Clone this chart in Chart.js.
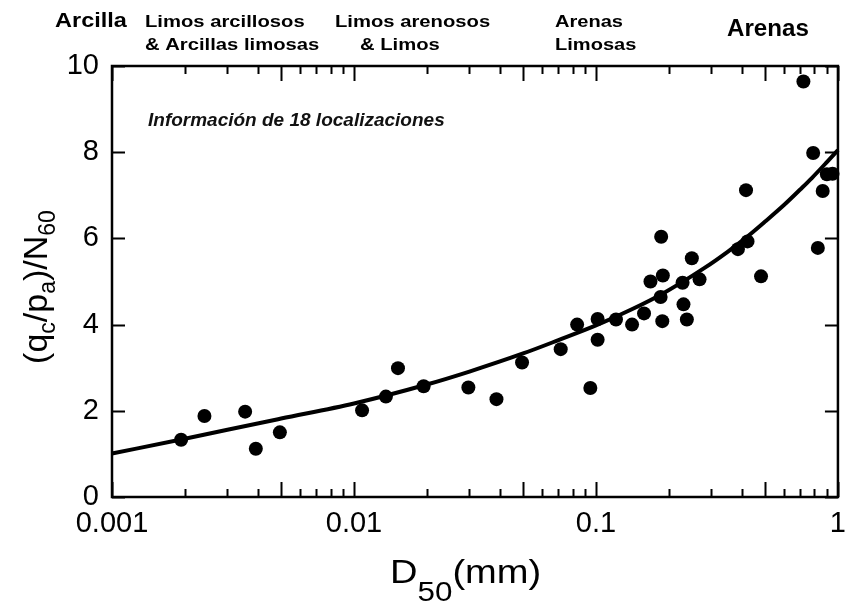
<!DOCTYPE html>
<html>
<head>
<meta charset="utf-8">
<script src="https://cdn.jsdelivr.net/npm/chart.js@4.4.1/dist/chart.umd.min.js"></script>
<style>
  html, body { margin: 0; padding: 0; background: #fff; }
</style>
</head>
<body>
<canvas id="chart" width="856" height="607"></canvas>
<script>
// Measured sites: median grain size D50 (mm) and (qc/pa)/N60
const d50 = [
  0.00193, 0.00241, 0.00355, 0.00393, 0.00494, 0.0108, 0.01355, 0.0152, 0.0194, 0.0297,
  0.0388, 0.0495, 0.0715, 0.0836, 0.0948, 0.1016, 0.1016, 0.121, 0.141, 0.158,
  0.168, 0.186, 0.189, 0.185, 0.188, 0.228, 0.23, 0.2375, 0.249, 0.268,
  0.386, 0.423, 0.417, 0.481, 0.72, 0.79, 0.826, 0.865, 0.9, 0.95
];
const ratio = [
  1.33, 1.88, 1.98, 1.12, 1.50, 2.01, 2.33, 2.99, 2.57, 2.54,
  2.27, 3.12, 3.43, 4.00, 2.53, 4.13, 3.65, 4.12, 4.00, 4.26,
  5.00, 6.04, 5.14, 4.64, 4.08, 4.97, 4.47, 4.12, 5.54, 5.05,
  5.75, 5.93, 7.12, 5.12, 9.64, 7.98, 5.78, 7.10, 7.49, 7.50
];

// Trend curve through the data
const trendD50 = [
  0.001, 0.002, 0.003, 0.005, 0.01, 0.02, 0.03, 0.05, 0.07, 0.1, 0.14,
  0.19, 0.28, 0.35, 0.42, 0.5, 0.6, 0.7, 0.78, 0.9, 1.0
];
const trendRatio = [
  1.01, 1.35, 1.56, 1.82, 2.17, 2.61, 2.91, 3.33, 3.64, 3.98, 4.35,
  4.73, 5.31, 5.69, 6.03, 6.39, 6.78, 7.14, 7.40, 7.77, 8.05
];

const xTickLabels = ['0.001', '0.01', '0.1', '1'];
const yTickLabels = ['0', '2', '4', '6', '8', '10'];

// Soil type headings above the plot, one entry per column
const soilClasses = [
  ['Arcilla'],
  ['Limos arcillosos', '& Arcillas limosas'],
  ['Limos arenosos', '& Limos'],
  ['Arenas', 'Limosas'],
  ['Arenas']
];
const noteText = 'Información de 18 localizaciones';

const FONT = '"Liberation Sans", Arial, Helvetica, sans-serif';

// where each heading line sits: [x, baseline, size, horizontal stretch]
const headingLayout = [
  [[55, 27, 21, 1.12]],
  [[145, 27, 17, 1.19], [145, 50, 17, 1.19]],
  [[335, 27, 17, 1.19], [360, 50, 17, 1.19]],
  [[555, 27, 17, 1.18], [555, 50, 17, 1.18]],
  [[727, 36, 23, 1.05]]
];

function drawText(ctx, text, x, y, font, sx) {
  ctx.save();
  ctx.font = font;
  ctx.translate(x, y);
  ctx.scale(sx, 1);
  ctx.fillText(text, 0, 0);
  const w = ctx.measureText(text).width * sx;
  ctx.restore();
  return w;
}

function mantissa(v) {
  const e = Math.floor(Math.log10(v) + 1e-9);
  return v / Math.pow(10, e);
}

const decorations = {
  id: 'decorations',
  afterDraw(chart) {
    const { ctx, chartArea: a, scales } = chart;
    const xs = scales.x, ys = scales.y;
    ctx.save();
    ctx.strokeStyle = '#000';
    ctx.fillStyle = '#000';
    ctx.lineCap = 'butt';

    // inward ticks on all four sides
    ctx.lineWidth = 2;
    ctx.beginPath();
    xs.ticks.forEach(t => {
      const m = mantissa(t.value);
      if (Math.abs(m - Math.round(m)) > 1e-6) return;
      const r = Math.round(m);
      const len = (r === 1 || r === 5 || r === 10) ? 15 : 8;
      const px = Math.round(xs.getPixelForValue(t.value)) + 0.5;
      ctx.moveTo(px, a.bottom);
      ctx.lineTo(px, a.bottom - len);
      ctx.moveTo(px, a.top);
      ctx.lineTo(px, a.top + len);
    });
    ys.ticks.forEach(t => {
      const py = Math.round(ys.getPixelForValue(t.value)) + 0.5;
      ctx.moveTo(a.left, py);
      ctx.lineTo(a.left + 13, py);
      ctx.moveTo(a.right, py);
      ctx.lineTo(a.right - 13, py);
    });
    ctx.stroke();

    // plot frame
    ctx.lineWidth = 2.5;
    ctx.strokeRect(a.left, a.top, a.right - a.left, a.bottom - a.top);

    // soil headings
    ctx.textBaseline = 'alphabetic';
    ctx.textAlign = 'left';
    soilClasses.forEach((lines, i) => {
      lines.forEach((line, j) => {
        const [x, y, size, sx] = headingLayout[i][j];
        drawText(ctx, line, x, y, 'bold ' + size + 'px ' + FONT, sx);
      });
    });

    // note inside the plot
    ctx.fillStyle = '#111';
    drawText(ctx, noteText, 148, 126, 'italic bold 19px ' + FONT, 1);
    ctx.fillStyle = '#000';

    // x axis title: D50(mm)
    let x = 390;
    x += drawText(ctx, 'D', x, 583, '34px ' + FONT, 1.12);
    x += drawText(ctx, '50', x, 601, '28px ' + FONT, 1.12);
    drawText(ctx, '(mm)', x, 583, '34px ' + FONT, 1.12);

    // y axis title: (qc/pa)/N60, rotated
    const parts = [
      ['(q', false], ['c', true], ['/p', false], ['a', true], [')/N', false], ['60', true]
    ];
    const big = '34px ' + FONT, small = '23px ' + FONT;
    let total = 0;
    parts.forEach(([t, sub]) => { ctx.font = sub ? small : big; total += ctx.measureText(t).width; });
    ctx.translate(47, 287 + total / 2);
    ctx.rotate(-Math.PI / 2);
    let p = 0;
    parts.forEach(([t, sub]) => {
      ctx.font = sub ? small : big;
      ctx.fillText(t, p, sub ? 8 : 0);
      p += ctx.measureText(t).width;
    });
    ctx.restore();
  }
};

const points = d50.map((d, i) => ({ x: d, y: ratio[i] }));
const trend = trendD50.map((d, i) => ({ x: d, y: trendRatio[i] }));

new Chart(document.getElementById('chart'), {
  type: 'scatter',
  data: {
    datasets: [
      {
        data: trend,
        showLine: true,
        borderColor: '#000',
        borderWidth: 4,
        pointRadius: 0,
        cubicInterpolationMode: 'monotone',
        clip: false
      },
      {
        data: points,
        backgroundColor: '#000',
        borderColor: '#000',
        pointRadius: 7,
        borderWidth: 0,
        clip: false
      }
    ]
  },
  options: {
    responsive: false,
    animation: false,
    layout: { padding: { top: 66, right: 9, left: 0, bottom: 0 } },
    plugins: { legend: { display: false }, tooltip: { enabled: false } },
    scales: {
      x: {
        type: 'logarithmic',
        min: 0.001,
        max: 1,
        grid: { display: false, drawTicks: false },
        border: { display: false },
        ticks: {
          autoSkip: false,
          maxRotation: 0,
          padding: 10,
          color: '#000',
          font: { family: FONT, size: 29 },
          callback(value) {
            const e = Math.log10(value);
            if (Math.abs(e - Math.round(e)) < 1e-9) return xTickLabels[Math.round(e) + 3];
            return '';
          }
        },
        afterFit(scale) { scale.height = 110; }
      },
      y: {
        min: 0,
        max: 10,
        grid: { display: false, drawTicks: false },
        border: { display: false },
        ticks: {
          stepSize: 2,
          padding: 13,
          color: '#000',
          font: { family: FONT, size: 29 },
          callback(value) { return yTickLabels[Math.round(value / 2)]; }
        },
        afterFit(scale) { scale.width = 112; }
      }
    }
  },
  plugins: [decorations]
});
</script>
</body>
</html>
